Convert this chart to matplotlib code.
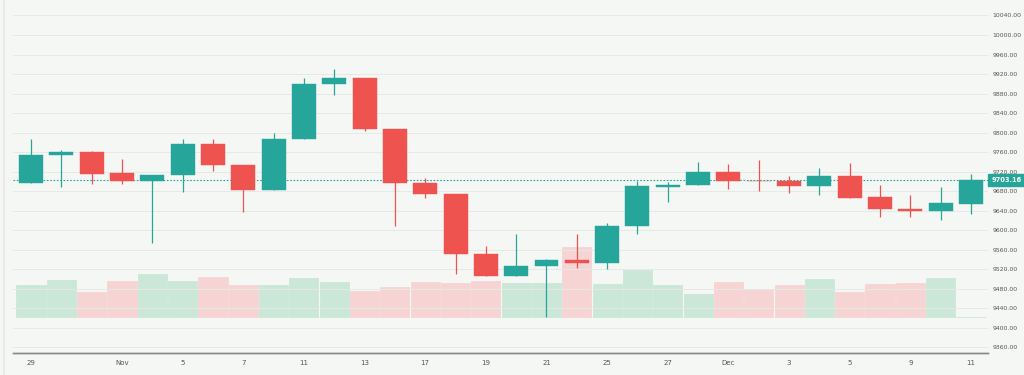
import numpy as np
import matplotlib
matplotlib.use('Agg')
import matplotlib.pyplot as plt

# daily OHLC
opens = [9696, 9754, 9760, 9717, 9701, 9714, 9776, 9734, 9682, 9786, 9899,
         9911, 9807, 9697, 9674, 9552, 9506, 9526, 9539, 9534, 9609, 9689,
         9692, 9720, 9702, 9701, 9691, 9711, 9668, 9644, 9640, 9653]
highs = [9787, 9764, 9762, 9746, 9714, 9786, 9786, 9734, 9800, 9912, 9930,
         9911, 9807, 9707, 9674, 9568, 9592, 9541, 9592, 9614, 9702, 9699,
         9739, 9735, 9745, 9711, 9728, 9737, 9692, 9672, 9689, 9715]
lows = [9696, 9689, 9695, 9694, 9573, 9678, 9721, 9637, 9682, 9786, 9877,
        9804, 9609, 9666, 9510, 9506, 9506, 9423, 9522, 9520, 9592, 9657,
        9692, 9685, 9681, 9676, 9672, 9666, 9627, 9628, 9621, 9634]
closes = [9754, 9760, 9716, 9701, 9714, 9776, 9734, 9682, 9786, 9900, 9911,
          9807, 9697, 9674, 9552, 9506, 9526, 9539, 9534, 9609, 9690, 9693,
          9720, 9701, 9700, 9691, 9711, 9666, 9643, 9640, 9655, 9703.16]
volumes = [314, 370, 247, 354, 430, 360, 397, 314, 317, 387, 344,
           260, 300, 344, 337, 360, 334, 334, 700, 330, 467, 317,
           227, 347, 277, 314, 380, 250, 327, 334, 390, 0]
tick_pos = [0, 3, 5, 7, 9, 11, 13, 15, 17, 19, 21, 23, 25, 27, 29, 31]
tick_labels = ['29', 'Nov', '5', '7', '11', '13', '17', '19', '21', '25', '27',
               'Dec', '3', '5', '9', '11']
last_price = 9703.16

up, down = '#26a69a', '#ef5350'
up_vol, down_vol = '#cbe7d7', '#f7d4d4'
bg = '#f5f7f5'

x = np.arange(len(opens))
o = np.array(opens); c = np.array(closes)
h = np.array(highs); l = np.array(lows)
rising = c >= o

fig = plt.figure(figsize=(10.24, 3.75), dpi=100)
fig.patch.set_facecolor(bg)
# faint frame edge on the left
fig.add_artist(plt.Line2D([3.5/1024, 3.5/1024], [0, 1], color='#e6e8e6', linewidth=1.2))

vax = fig.add_axes([13/1024, 22/375, 975/1024, 353/375])
vax.set_facecolor(bg)
ax = vax.twinx()
ax.patch.set_visible(False)

# volume (bottom layer)
vcols = np.where(rising, up_vol, down_vol)
vax.bar(x, volumes, width=0.96, color=vcols, edgecolor=vcols, linewidth=0.6, zorder=1)
vax.set_ylim(-363, 3167)
vax.set_yticks([])

# candles
cols = np.where(rising, up, down)
ax.vlines(x, l, h, colors=cols, linewidth=0.9, zorder=3)
ax.bar(x, np.maximum(np.abs(c - o), 1.5), bottom=np.minimum(o, c), width=0.79,
       color=cols, edgecolor=cols, linewidth=0.3, zorder=4)

ax.axhline(last_price, color=up, linestyle=(0, (1.5, 1.5)), linewidth=0.8, zorder=2)

ax.set_xlim(-0.594, 31.56)
ax.set_ylim(9348.7, 10071.7)
yt = np.arange(9360, 10041, 40)
ax.set_yticks(yt)
ax.set_yticklabels(['%.2f' % v for v in yt])
ax.tick_params(axis='y', length=0, labelsize=4.4, labelcolor='#555555', pad=3)
ax.grid(axis='y', color='#e6e9e6', linewidth=0.7, zorder=0)
ax.set_axisbelow(True)

vax.set_xticks(tick_pos)
vax.set_xticklabels(tick_labels)
vax.tick_params(axis='x', length=0, labelsize=5, labelcolor='#555555', pad=5)

for a in (ax, vax):
    for s in ('top', 'left', 'right'):
        a.spines[s].set_visible(False)
    a.spines['bottom'].set_color('#888888')
    a.spines['bottom'].set_linewidth(1)

ax.annotate('%.2f' % last_price, xy=(1.0, last_price),
            xycoords=ax.get_yaxis_transform(), xytext=(2.5, 0),
            textcoords='offset points', va='center', ha='left',
            fontsize=4.8, color='white', fontweight='bold',
            bbox=dict(boxstyle='square,pad=0.5', fc=up, ec=up))

fig.savefig('out.png', dpi=100, facecolor=bg)
